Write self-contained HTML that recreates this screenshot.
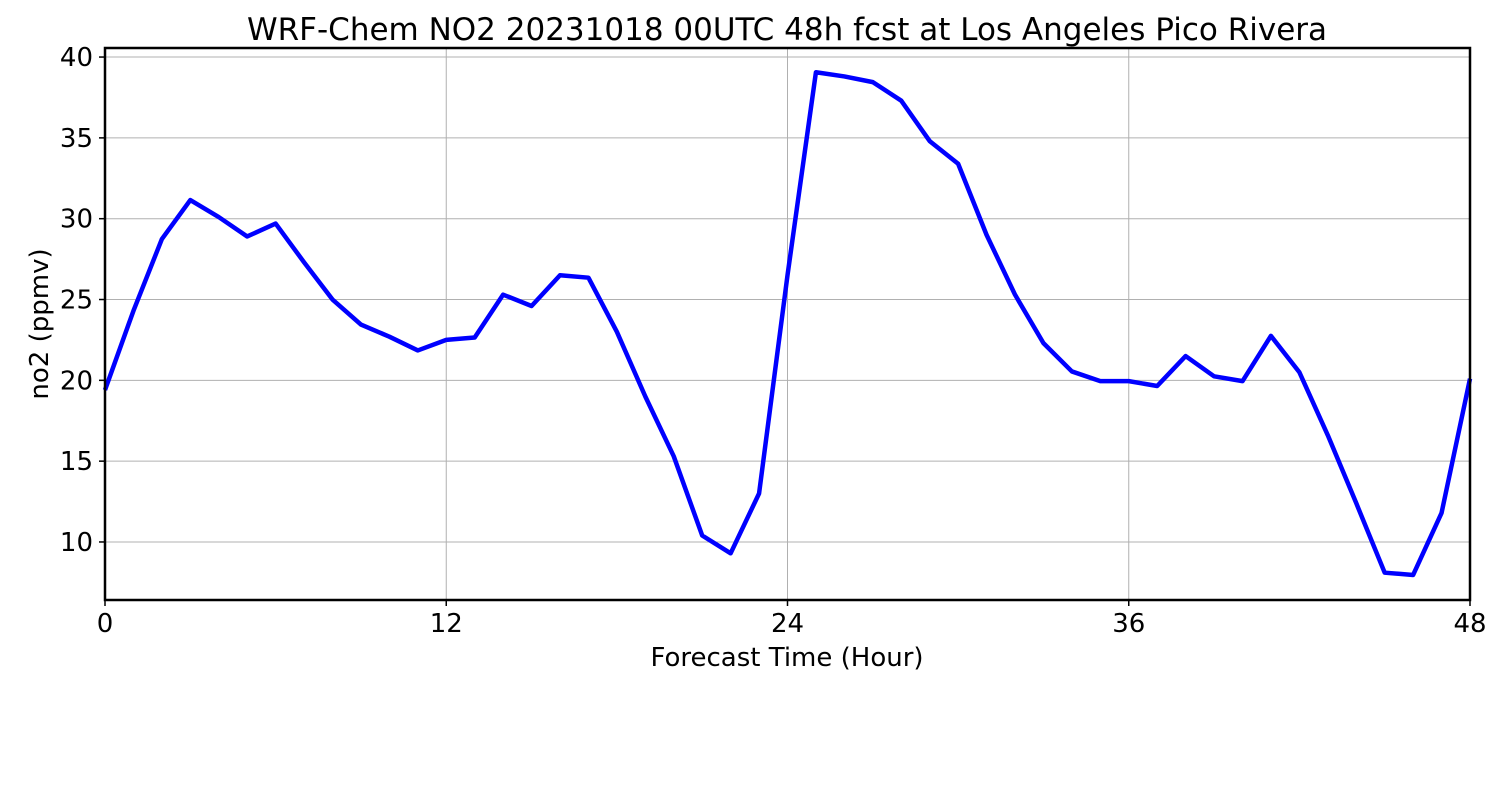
<!DOCTYPE html>
<html><head><meta charset="utf-8"><style>
body{margin:0;background:#fff;}
svg text{font-family:"DejaVu Sans","Liberation Sans",sans-serif;fill:#000;}
</style></head><body>
<svg id="chart" width="1500" height="800" xmlns="http://www.w3.org/2000/svg">
<rect width="1500" height="800" fill="#fff"/>
<text x="787" y="40" font-size="31" text-anchor="middle">WRF-Chem NO2  20231018 00UTC 48h fcst at Los Angeles Pico Rivera</text>
<g id="grid"></g>
<g id="ticks"></g>
<polyline id="line" fill="none" stroke="#0000ff" stroke-width="4.5" stroke-linejoin="round"/>
<rect x="105" y="48" width="1365" height="552" fill="none" stroke="#000" stroke-width="2.5"/>
<text x="787" y="666" font-size="26" text-anchor="middle">Forecast Time (Hour)</text>
<text transform="translate(48,324) rotate(-90)" font-size="26" text-anchor="middle">no2  (ppmv)</text>
</svg>
<script>
const hours=[0,1,2,3,4,5,6,7,8,9,10,11,12,13,14,15,16,17,18,19,20,21,22,23,24,25,26,27,28,29,30,31,32,33,34,35,36,37,38,39,40,41,42,43,44,45,46,47,48];
const no2=[19.4,24.3,28.74,31.15,30.1,28.9,29.7,27.3,25.0,23.45,22.7,21.85,22.5,22.65,25.3,24.6,26.5,26.35,23.0,19.0,15.3,10.4,9.3,13.0,26.5,39.06,38.8,38.45,37.3,34.8,33.4,29.0,25.3,22.3,20.55,19.95,19.95,19.65,21.5,20.25,19.95,22.75,20.5,16.6,12.4,8.1,7.96,11.8,20.1];
const xTicks=[0,12,24,36,48];
const yTicks=[10,15,20,25,30,35,40];
const X0=105,X1=1470,Y0=600,Y1=48,xmin=0,xmax=48,ymin=6.41,ymax=40.56;
const sx=v=>X0+(v-xmin)/(xmax-xmin)*(X1-X0);
const sy=v=>Y0-(v-ymin)/(ymax-ymin)*(Y0-Y1);
const NS="http://www.w3.org/2000/svg";
const grid=document.getElementById('grid'),ticks=document.getElementById('ticks');
function mk(tag,attrs,parent,txt){const e=document.createElementNS(NS,tag);for(const k in attrs)e.setAttribute(k,attrs[k]);if(txt!==undefined)e.textContent=txt;parent.appendChild(e);return e;}
xTicks.forEach(t=>{const x=sx(t);
 const g=mk('line',{x1:x,x2:x,y1:Y1,y2:Y0,stroke:'#b0b0b0','stroke-width':1},grid);
 
 
 const tk=mk('line',{x1:x,x2:x,y1:Y0,y2:Y0+6,stroke:'#000','stroke-width':1.5},ticks);
 
 
 const l=mk('text',{x:x,y:632,'font-size':26,'text-anchor':'middle'},ticks,String(t));
 
 
});
yTicks.forEach(t=>{const y=sy(t);
 const g=mk('line',{x1:X0,x2:X1,y1:y,y2:y,stroke:'#b0b0b0','stroke-width':1},grid);
 
 
 const tk=mk('line',{x1:X0-6,x2:X0,y1:y,y2:y,stroke:'#000','stroke-width':1.5},ticks);
 
 
 const l=mk('text',{x:X0-12,y:y+9,'font-size':26,'text-anchor':'end'},ticks,String(t));
 
 
});
document.getElementById('line').setAttribute('points',hours.map((h,i)=>sx(h)+','+sy(no2[i])).join(' '));
</script>
</body></html>
